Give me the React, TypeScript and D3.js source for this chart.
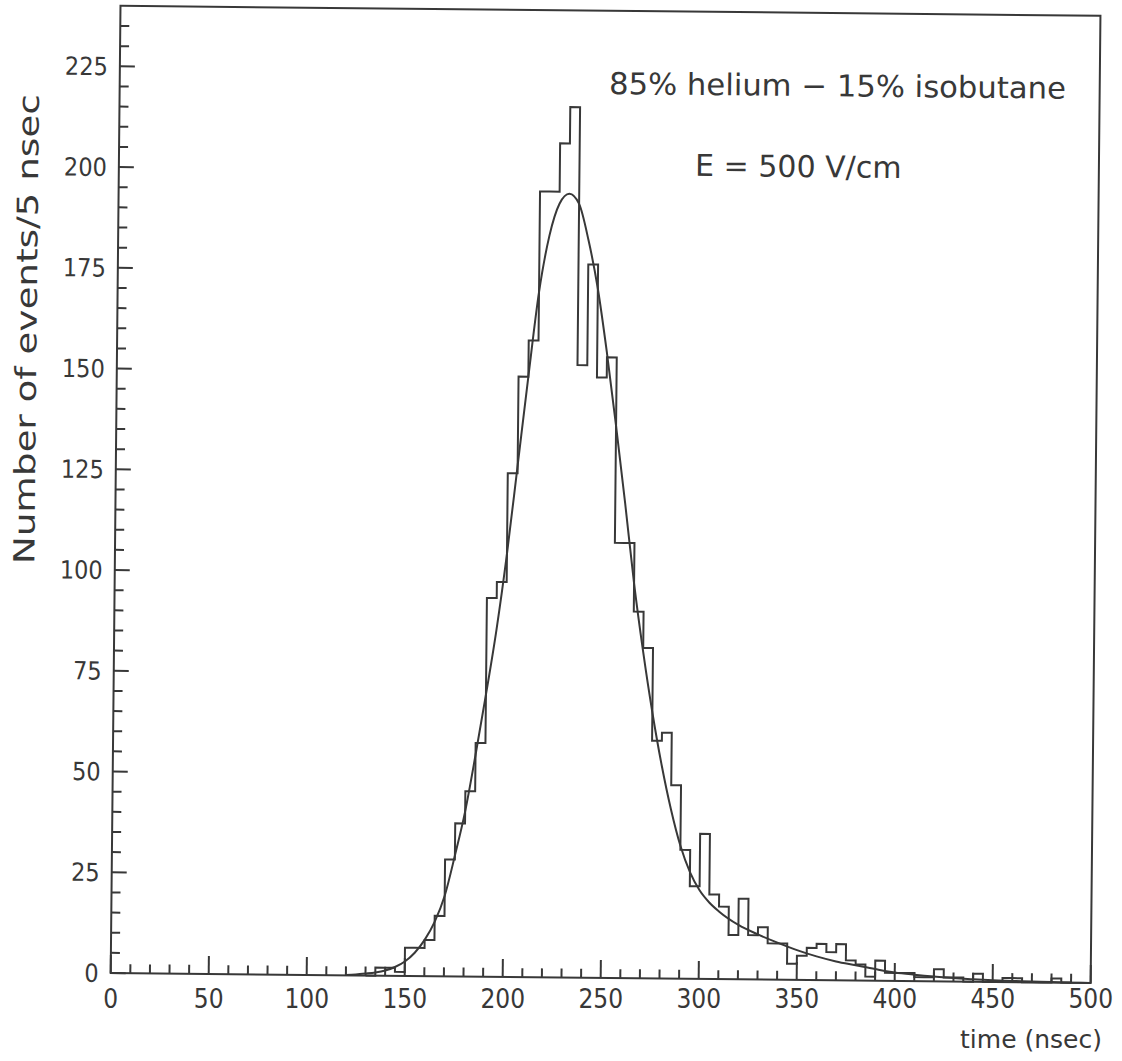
import React from 'react';
import * as d3 from 'd3';

// ---- data ----
const xMajorTicks = [0, 50, 100, 150, 200, 250, 300, 350, 400, 450, 500];
const yMajorTicks = [0, 25, 50, 75, 100, 125, 150, 175, 200, 225];
const xDomain = [0, 500];
const yDomain = [0, 240];

// histogram: 5 ns bins starting at 130 ns
const binStart = 130;
const binWidth = 5;
const counts = [
  0, 2, 2, 1, 7, 7, 9, 15, 29, 38, // 130-180
  46, 58, 94, 98, 125, 149, 158, 195, 195, 207, // 180-230
  216, 152, 177, 149, 154, 108, 108, 91, 82, 59, // 230-280
  61, 48, 32, 23, 36, 21, 18, 11, 20, 11, // 280-330
  13, 9, 9, 4, 6, 8, 9, 7, 9, 5, // 330-380
  4, 1, 5, 2, 2, 2, 1, 1, 3, 1, // 380-430
  1, 0, 2, 0, 0, 1, 1, 0, 0, 0, // 430-480
  1, 0, 0, 0, // 480-500
];

// fitted curve
const fitTime = [120, 125, 130, 135, 140, 145, 150, 155, 160, 165, 170, 175, 180, 185, 190, 195, 200, 205, 210, 215, 220, 225, 230, 235, 240, 245, 250, 255, 260, 265, 270, 275, 280, 285, 290, 295, 300, 305, 310, 320, 330, 340, 350, 360, 370, 380, 390, 400, 410, 420, 430, 440, 450, 460, 470, 480, 490];
const fitValue = [0.1, 0.25, 0.5, 0.8, 1.3, 2.2, 3.6, 5.8, 9, 13.5, 20, 30, 41, 55, 70, 86, 105, 127, 149, 170, 184, 192, 194.5, 192, 183, 171, 155, 137, 118, 98, 81, 66, 53, 42, 33, 26.5, 22, 19, 16.8, 13.5, 11.2, 9.2, 7.4, 5.9, 4.7, 3.8, 2.9, 2.1, 1.6, 1.2, 0.9, 0.6, 0.4, 0.3, 0.2, 0.1, 0.05];

const annotationGas = '85% helium \u2212 15% isobutane';
const annotationField = 'E = 500 V/cm';
const xTitle = 'time (nsec)';
const yTitle = 'Number of events/5 nsec';

export default function App() {
  const W = 1122;
  const H = 1061;
  const ink = '#383838';
  const x = d3.scaleLinear().domain(xDomain).range([110.7, 1090.7]);
  const y = d3.scaleLinear().domain(yDomain).range([973, 5.8]);

  const xMinor = d3.range(0, 501, 10).filter((v) => v % 50 !== 0);
  const yMinor = d3.range(0, 240, 5).filter((v) => v % 25 !== 0);

  // histogram contour
  const steps: [number, number][] = [[binStart, 0]];
  counts.forEach((c, i) => {
    const lo = binStart + i * binWidth;
    steps.push([lo, c]);
    steps.push([lo + binWidth, c]);
  });
  steps.push([binStart + counts.length * binWidth, 0]);
  const histPath = d3
    .line<[number, number]>()
    .x((d) => x(d[0]))
    .y((d) => y(d[1]))(steps);

  const fitPts = fitTime.map((t, i) => [t, fitValue[i]] as [number, number]);
  const fitPath = d3
    .line<[number, number]>()
    .x((d) => x(d[0]))
    .y((d) => y(d[1]))
    .curve(d3.curveMonotoneX)(fitPts);

  const tickFont = "'Liberation Sans Narrow', 'DejaVu Sans Condensed', sans-serif";
  const textFont = "'DejaVu Sans', sans-serif";

  return (
    <svg
      width={W}
      height={H}
      style={{ position: 'absolute', left: 0, top: 0, background: '#fff' }}
    >
      <rect x={0} y={0} width={W} height={H} fill="#fff" />
      <g transform={`rotate(0.58 ${x(0)} ${y(0)})`}>
        {/* frame */}
        <rect
          x={x(0)}
          y={y(240)}
          width={x(500) - x(0)}
          height={y(0) - y(240)}
          fill="none"
          stroke={ink}
          strokeWidth={2}
        />
        {/* x ticks */}
        {xMajorTicks.map((t) => (
          <line key={'xM' + t} x1={x(t)} x2={x(t)} y1={y(0)} y2={y(0) - 18} stroke={ink} strokeWidth={2} />
        ))}
        {xMinor.map((t) => (
          <line key={'xm' + t} x1={x(t)} x2={x(t)} y1={y(0)} y2={y(0) - 9} stroke={ink} strokeWidth={2} />
        ))}
        {/* y ticks */}
        {yMajorTicks.map((t) => (
          <line key={'yM' + t} x1={x(0)} x2={x(0) + 15} y1={y(t)} y2={y(t)} stroke={ink} strokeWidth={2} />
        ))}
        {yMinor.map((t) => (
          <line key={'ym' + t} x1={x(0)} x2={x(0) + 9} y1={y(t)} y2={y(t)} stroke={ink} strokeWidth={2} />
        ))}
        {/* y tick labels */}
        {yMajorTicks.map((t) => (
          <text
            key={'yl' + t}
            x={x(0) - 12}
            y={y(t) + 9}
            textAnchor="end"
            fontFamily={tickFont}
            fontSize={25}
            fill={ink}
          >
            {t}
          </text>
        ))}
        {/* histogram */}
        <path d={histPath || ''} fill="none" stroke={ink} strokeWidth={2} />
        {/* fit */}
        <path d={fitPath || ''} fill="none" stroke={ink} strokeWidth={2} />
        {/* annotations */}
        <text x={600} y={89} fontFamily={textFont} fontSize={30} fill={ink} textLength={457} lengthAdjust="spacingAndGlyphs">
          {annotationGas}
        </text>
        <text x={687} y={170} fontFamily={textFont} fontSize={30} fill={ink}>
          {annotationField}
        </text>
        <text
          transform={`translate(30, 330) rotate(-90)`}
          textAnchor="middle"
          fontFamily={textFont}
          fontSize={29}
          fill={ink}
          textLength={470}
          lengthAdjust="spacingAndGlyphs"
        >
          {yTitle}
        </text>
      </g>
      {/* x tick labels (scan keeps them level) */}
      {xMajorTicks.map((t) => (
        <text
          key={'xl' + t}
          x={x(t)}
          y={1008}
          textAnchor="middle"
          fontFamily={tickFont}
          fontSize={26}
          fill={ink}
        >
          {t}
        </text>
      ))}
      <text x={1102} y={1048} textAnchor="end" fontFamily={textFont} fontSize={25} fill={ink}>
        {xTitle}
      </text>
    </svg>
  );
}
